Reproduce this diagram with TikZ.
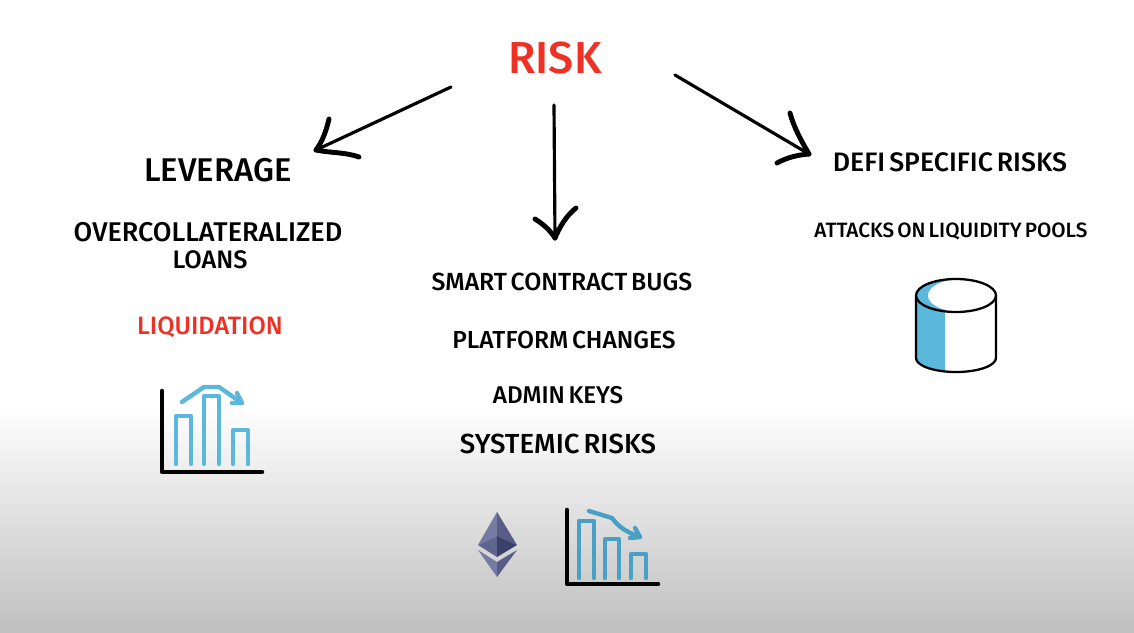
\documentclass[tikz,border=0pt]{standalone}
\usepackage{fontspec}
\setmainfont[WordSpace=0.6, BoldFont={Fira Sans Medium}]{Fira Sans}
\definecolor{riskred}{HTML}{EE3124}
\definecolor{barblue}{HTML}{5BB8DC}
\definecolor{bardark}{HTML}{4A9FC4}
\tikzset{
  labeltext/.style={font=\bfseries\fontsize{#1}{#1}\selectfont, inner sep=0pt},
  penline/.style={line width=1.8pt, line cap=round, line join=round},
  penbarb/.style={line width=2.8pt, line cap=round},
  axisline/.style={line width=2.6pt, line cap=round, line join=round},
  barline/.style={line width=2.5pt, line cap=round, line join=round},
}
\begin{document}
\begin{tikzpicture}[x=0.02cm,y=-0.02cm]
\useasboundingbox (0,0) rectangle (1134,633);

% Background
\shade[top color=white, bottom color=black!25] (0,405) rectangle (1134,633);

% Title
\node[labeltext=25.5pt, text=riskred] (risk) at (555,58) {RISK};

% Left column
\node[labeltext=18.7pt] (leverage) at (218,170) {LEVERAGE};
\node[labeltext=15.4pt] (overcoll) at (208,232) {OVERCOLLATERALIZED};
\node[labeltext=14.4pt] (loans) at (210,260) {LOANS};
\node[labeltext=14.3pt, text=riskred] (liquidation) at (210,327) {LIQUIDATION};

% Middle column
\node[labeltext=14.1pt] (bugs) at (562,282) {SMART CONTRACT BUGS};
\node[labeltext=14pt] (platform) at (564,340) {PLATFORM CHANGES};
\node[labeltext=13.8pt] (admin) at (558,395) {ADMIN KEYS};
\node[labeltext=15.7pt] (systemic) at (558,444) {SYSTEMIC RISKS};

% Right column
\node[labeltext=15.2pt] (defi) at (950,162) {DEFI SPECIFIC RISKS};
\node[labeltext=11.8pt] (attacks) at (951,231) {ATTACKS ON LIQUIDITY POOLS};

% Arrows from the title
\coordinate (startleft) at (451,87);
\coordinate (tipleft) at (316,150);
\coordinate (startmid) at (554,105);
\coordinate (tipmid) at (555,238);
\coordinate (startright) at (675,75);
\coordinate (tipright) at (809,154);
\draw[penline] (startleft) -- (tipleft);
\draw[penbarb] (329,119) .. controls (326,132) and (322,142) .. (tipleft);
\draw[penbarb] (359,157) .. controls (345,152) and (330,153) .. (tipleft);
\draw[penline] (startmid) -- (tipmid);
\draw[penbarb] (535,219) .. controls (543,224) and (550,230) .. (tipmid);
\draw[penbarb] (576,208) .. controls (567,215) and (560,226) .. (tipmid);
\draw[penline] (startright) -- (tipright);
\draw[penbarb] (790,113) .. controls (794,128) and (802,142) .. (tipright);
\draw[penbarb] (777,163) .. controls (788,157) and (798,155) .. (tipright);

% Left chart
\coordinate (axisa) at (162,391);
\coordinate (cornera) at (162,472);
\coordinate (enda) at (262,472);
\draw[axisline] (axisa) -- (cornera) -- (enda);
\draw[barline, barblue] (176,464) -- (176,416) -- (191,416) -- (191,464);
\draw[barline, barblue] (204,464) -- (204,396) -- (219,396) -- (219,464);
\draw[barline, barblue] (233,464) -- (233,430) -- (248,430) -- (248,464);
\draw[barline, barblue] (182,402) -- (204,387) -- (219,387) -- (242,403) -- (232,403);
\draw[barline, barblue] (237,393) -- (242,403);

% Middle chart
\coordinate (axisb) at (567,510);
\coordinate (cornerb) at (567,584);
\coordinate (endb) at (658,584);
\draw[axisline] (axisb) -- (cornerb) -- (endb);
\draw[barline, bardark] (579,578) -- (579,521) -- (594,521) -- (594,578);
\draw[barline, bardark] (605,578) -- (605,539) -- (619,539) -- (619,578);
\draw[barline, bardark] (631,578) -- (631,554) -- (646,554) -- (646,578);
\draw[barline, bardark] (589,511) -- (612,518) .. controls (618,526) and (624,531) .. (640,537) -- (630,538);
\draw[barline, bardark] (635,528) -- (640,537);

% Ether logo
\fill[color={rgb,255:red,118;green,123;blue,163}] (497,512) -- (478,545) -- (497,536) -- cycle;
\fill[color={rgb,255:red,88;green,93;blue,136}] (497,512) -- (517,545) -- (497,536) -- cycle;
\fill[color={rgb,255:red,96;green,101;blue,142}] (478,545) -- (497,536) -- (497,557) -- cycle;
\fill[color={rgb,255:red,60;green,65;blue,108}] (517,545) -- (497,536) -- (497,557) -- cycle;
\fill[color={rgb,255:red,118;green,123;blue,163}] (478,550) -- (497,562) -- (497,577) -- cycle;
\fill[color={rgb,255:red,88;green,93;blue,136}] (517,550) -- (497,562) -- (497,577) -- cycle;

% Pool cylinder
\fill[barblue] (916,295) -- (916,358) arc [start angle=180, end angle=106, x radius=40, y radius=14] -- (945,295) -- cycle;
\fill[barblue] (956,295.5) ellipse [x radius=40, y radius=16.5];
\fill[white] (945,295.5) rectangle (996,312);
\fill[white] (962,295.5) ellipse [x radius=34, y radius=16.5];
\draw[line width=1.3pt] (956,295.5) ellipse [x radius=40, y radius=16.5];
\draw[line width=1.3pt] (916,295.5) -- (916,358) arc [start angle=180, end angle=0, x radius=40, y radius=14] -- (996,295.5);

\end{tikzpicture}
\end{document}
